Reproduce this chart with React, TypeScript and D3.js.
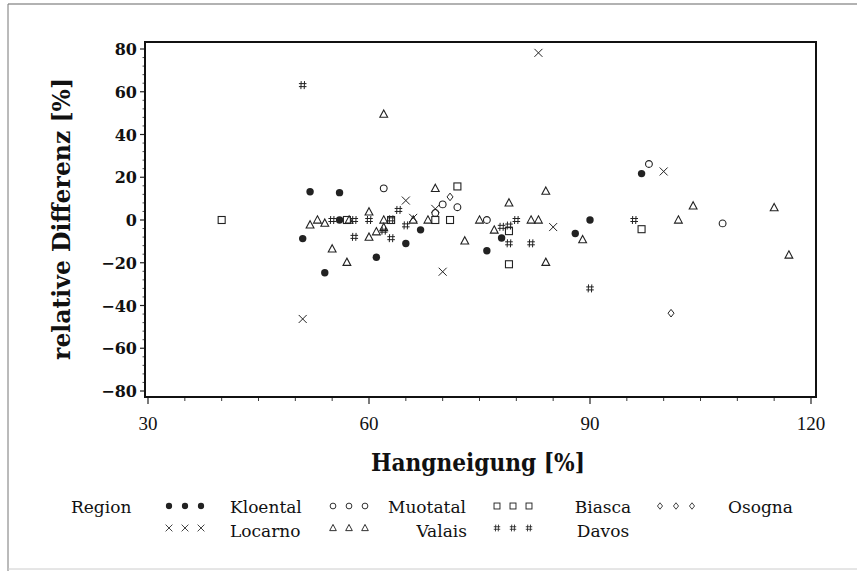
import { useRef, useEffect } from "react";
import * as d3 from "d3";

// [Hangneigung %, relative Differenz %] per region
const kloental: [number, number][] = [
  [51, -8.7], [52, 13.2], [54, -24.7], [56, 12.8], [56, 0], [61, -17.4], [65, -11],
  [67, -4.6], [76, -14.4], [78, -8.4], [88, -6.3], [90, 0], [97, 21.7],
];
const muotatal: [number, number][] = [
  [62, 14.8], [69, 3.3], [70, 7.3], [72, 6], [76, 0], [98, 26.2], [108, -1.6],
];
const biasca: [number, number][] = [
  [40, 0], [57, 0], [63, 0], [69, 0], [71, 0], [72, 15.7], [79, -5.2], [79, -20.7], [97, -4.3],
];
const osogna: [number, number][] = [[71, 10.8], [101, -43.6]];
const locarno: [number, number][] = [
  [51, -46.3], [65, 9.1], [66, 1], [69, 5.2], [70, -24.2], [83, 78.2], [85, -3.3], [100, 22.7],
];
const valais: [number, number][] = [
  [52, -2.3], [53, 0], [54, -1.5], [55, -13.5], [57, -19.8], [57.3, 0], [60, 3.8], [60, -8],
  [61, -5.5], [62, 49.5], [62, 0], [62, -3.5], [66, 0], [68, 0], [69, 14.8], [73, -9.8],
  [75, 0], [77, -4.7], [79, 8], [82, 0], [83, 0], [84, 13.5], [84, -19.8], [89, -9.2],
  [102, 0], [104, 6.6], [115, 5.8], [117, -16.4],
];
const davos: [number, number][] = [
  [51, 63.1], [55, 0], [58, 0], [58, -7.9], [60, 0], [62, -5], [63, -8.5], [63, 0.3],
  [64, 4.7], [65, -2.5], [78, -3.2], [79, -2.6], [79, -10.9], [80, 0], [82, -10.9],
  [90, -32], [96, 0],
];

const xTicks = [30, 60, 90, 120];
const yTicks = [-80, -60, -40, -20, 0, 20, 40, 60, 80];

type Sym = "dot" | "circle" | "square" | "diamond" | "x" | "triangle" | "hash";

const series: { name: string; data: [number, number][] }[] = [
  { name: "Kloental", data: kloental },
  { name: "Muotatal", data: muotatal },
  { name: "Biasca", data: biasca },
  { name: "Osogna", data: osogna },
  { name: "Locarno", data: locarno },
  { name: "Valais", data: valais },
  { name: "Davos", data: davos },
];

const symbolOf: Record<string, Sym> = {
  Kloental: "dot",
  Muotatal: "circle",
  Biasca: "square",
  Osogna: "diamond",
  Locarno: "x",
  Valais: "triangle",
  Davos: "hash",
};

const INK = "#222";

function drawSymbol(
  g: d3.Selection<SVGGElement, unknown, null, undefined>,
  sym: Sym,
  cx: number,
  cy: number,
  k = 1
) {
  const s = g.append("g").attr("transform", `translate(${cx},${cy}) scale(${k})`);
  const line = (x1: number, y1: number, x2: number, y2: number) =>
    s.append("line").attr("x1", x1).attr("y1", y1).attr("x2", x2).attr("y2", y2)
      .attr("stroke", INK).attr("stroke-width", 1);
  switch (sym) {
    case "dot":
      s.append("circle").attr("r", 3.7).attr("fill", INK);
      break;
    case "circle":
      s.append("circle").attr("r", 3.4).attr("fill", "none").attr("stroke", INK).attr("stroke-width", 1.1);
      break;
    case "square":
      s.append("rect").attr("x", -3.5).attr("y", -3.5).attr("width", 7).attr("height", 7)
        .attr("fill", "none").attr("stroke", INK).attr("stroke-width", 1.1);
      break;
    case "diamond":
      s.append("path").attr("d", "M0,-3.8L3,0L0,3.8L-3,0Z")
        .attr("fill", "none").attr("stroke", INK).attr("stroke-width", 1);
      break;
    case "x":
      line(-4, -4, 4, 4);
      line(-4, 4, 4, -4);
      break;
    case "triangle":
      s.append("path").attr("d", "M0,-4.2L3.9,3.1L-3.9,3.1Z")
        .attr("fill", "none").attr("stroke", INK).attr("stroke-width", 1.1);
      break;
    case "hash":
      line(-1.5, -4, -1.8, 4);
      line(1.8, -4, 1.5, 4);
      line(-3.8, -1.5, 3.8, -1.5);
      line(-3.8, 1.5, 3.8, 1.5);
      break;
  }
}

export default function App() {
  const svgRef = useRef<SVGSVGElement>(null);

  useEffect(() => {
    if (!svgRef.current) return;
    const svg = d3.select(svgRef.current);
    svg.selectAll("*").remove();

    const width = 857;
    const height = 571;
    svg.attr("width", width).attr("height", height).attr("viewBox", `0 0 ${width} ${height}`);

    const serif = "'DejaVu Serif', serif";

    // page border
    svg.append("rect").attr("width", width).attr("height", height).attr("fill", "#fff");
    svg.append("line").attr("x1", 8).attr("y1", 4).attr("x2", width).attr("y2", 4)
      .attr("stroke", "#666").attr("stroke-width", 1.2);
    svg.append("line").attr("x1", 8).attr("y1", 4).attr("x2", 8).attr("y2", height)
      .attr("stroke", "#777").attr("stroke-width", 1);
    svg.append("line").attr("x1", 8).attr("y1", 569).attr("x2", width).attr("y2", 569)
      .attr("stroke", "#ccc").attr("stroke-width", 1);

    const x = d3.scaleLinear().domain([30, 120]).range([148, 811]);
    const y = d3.scaleLinear().domain([-80, 80]).range([391, 49]);

    const frame = { left: 145, top: 42, right: 816, bottom: 397 };

    const g = svg.append("g");

    // y axis ticks
    const yMinor = d3.range(-80, 80.1, 4).filter((v) => v % 20 !== 0);
    g.selectAll(".ymin").data(yMinor).enter().append("line")
      .attr("x1", frame.left - 2.5).attr("x2", frame.left)
      .attr("y1", (d) => y(d)).attr("y2", (d) => y(d))
      .attr("stroke", INK).attr("stroke-width", 0.8);
    g.selectAll(".ymaj").data(yTicks).enter().append("line")
      .attr("x1", frame.left - 5).attr("x2", frame.left)
      .attr("y1", (d) => y(d)).attr("y2", (d) => y(d))
      .attr("stroke", INK).attr("stroke-width", 1.2);
    g.selectAll(".ylab").data(yTicks).enter().append("text")
      .attr("x", 137).attr("y", (d) => y(d) + 6)
      .attr("text-anchor", "end")
      .attr("font-family", serif).attr("font-weight", "bold").attr("font-size", 16)
      .attr("fill", "#111")
      .text((d) => (d < 0 ? "\u2212" + Math.abs(d) : String(d)));

    // x axis ticks
    const xMinor = d3.range(30, 120.1, 5).filter((v) => v % 30 !== 0);
    g.selectAll(".xmin").data(xMinor).enter().append("line")
      .attr("x1", (d) => x(d)).attr("x2", (d) => x(d))
      .attr("y1", frame.bottom).attr("y2", frame.bottom + 4)
      .attr("stroke", INK).attr("stroke-width", 0.9);
    g.selectAll(".xmaj").data(xTicks).enter().append("line")
      .attr("x1", (d) => x(d)).attr("x2", (d) => x(d))
      .attr("y1", frame.bottom).attr("y2", frame.bottom + 7)
      .attr("stroke", INK).attr("stroke-width", 1.2);
    g.selectAll(".xlab").data(xTicks).enter().append("text")
      .attr("x", (d) => x(d)).attr("y", 430)
      .attr("text-anchor", "middle")
      .attr("font-family", "'Liberation Serif', serif").attr("font-size", 19)
      .attr("fill", "#111")
      .text((d) => String(d));

    // frame
    g.append("rect")
      .attr("x", frame.left).attr("y", frame.top)
      .attr("width", frame.right - frame.left).attr("height", frame.bottom - frame.top)
      .attr("fill", "none").attr("stroke", "#111").attr("stroke-width", 2);

    // axis titles
    svg.append("text")
      .attr("transform", `translate(70,219) rotate(-90)`)
      .attr("text-anchor", "middle")
      .attr("font-family", serif).attr("font-weight", "bold").attr("font-size", 25)
      .attr("textLength", 282).attr("lengthAdjust", "spacingAndGlyphs")
      .attr("fill", "#111")
      .text("relative  Differenz  [%]");

    svg.append("text")
      .attr("x", 478).attr("y", 471)
      .attr("text-anchor", "middle")
      .attr("font-family", serif).attr("font-weight", "bold").attr("font-size", 24)
      .attr("textLength", 214).attr("lengthAdjust", "spacingAndGlyphs")
      .attr("fill", "#111")
      .text("Hangneigung  [%]");

    // points
    series.forEach((s) => {
      const sg = g.append("g").attr("class", s.name);
      s.data.forEach(([vx, vy]) => drawSymbol(sg, symbolOf[s.name], x(vx), y(vy)));
    });

    // legend
    const lg = svg.append("g").attr("font-family", serif).attr("font-size", 17).attr("fill", "#111");
    lg.append("text").attr("x", 71).attr("y", 513).text("Region");

    const legendItems: { name: string; sx: number; row: number; tx: number; anchor: string }[] = [
      { name: "Kloental", sx: 169, row: 0, tx: 230, anchor: "start" },
      { name: "Muotatal", sx: 333, row: 0, tx: 388, anchor: "start" },
      { name: "Biasca", sx: 497, row: 0, tx: 603, anchor: "middle" },
      { name: "Osogna", sx: 660, row: 0, tx: 728, anchor: "start" },
      { name: "Locarno", sx: 169, row: 1, tx: 230, anchor: "start" },
      { name: "Valais", sx: 333, row: 1, tx: 467, anchor: "end" },
      { name: "Davos", sx: 497, row: 1, tx: 603, anchor: "middle" },
    ];
    legendItems.forEach((it) => {
      const sy = it.row === 0 ? 506 : 528;
      const ty = it.row === 0 ? 513 : 537;
      [0, 1, 2].forEach((i) => drawSymbol(lg as any, symbolOf[it.name], it.sx + i * 16, sy, 0.85));
      lg.append("text").attr("x", it.tx).attr("y", ty).attr("text-anchor", it.anchor).text(it.name);
    });
  }, []);

  return (
    <div style={{ position: "absolute", left: 0, top: 0 }}>
      <svg ref={svgRef} />
    </div>
  );
}
